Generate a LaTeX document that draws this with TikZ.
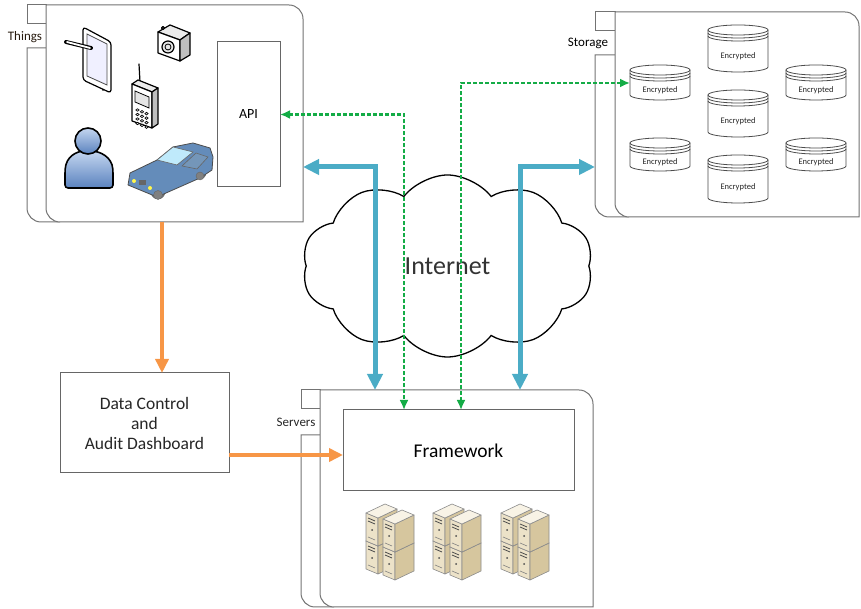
\documentclass[tikz,border=0pt]{standalone}
\usepackage{fontspec}
\setmainfont{Carlito}
\usetikzlibrary{arrows.meta,shapes.symbols}

\definecolor{netblue}{RGB}{75,172,198}
\definecolor{netgreen}{RGB}{20,172,70}
\definecolor{netorange}{RGB}{247,150,70}
\definecolor{rackfront}{RGB}{236,226,200}
\definecolor{rackside}{RGB}{214,198,158}
\definecolor{racktop}{RGB}{248,243,230}
\definecolor{carblue}{RGB}{100,140,186}
\definecolor{personlight}{RGB}{196,214,240}
\definecolor{persondark}{RGB}{90,130,190}

\begin{document}
\begin{tikzpicture}[
    x = 1pt, y = 1pt,
    every node/.style = {inner sep = 0pt, outer sep = 0pt},
    frame/.style = {draw = black!55, line width = 1pt},
    box/.style = {draw = black!60, line width = 1pt, fill = white},
    tag/.style = {font = \fontsize{13}{15}\selectfont, text = black!85},
    disk/.style = {draw = black!70, line width = .8pt, fill = white},
    icon/.style = {draw = black, line width = 1.2pt, line join = round},
    rackline/.style = {draw = black!45, line width = .6pt, line join = round},
    flow/.style = {draw = netorange, line width = 3.5pt,
      arrows = {-Triangle[length=14pt,width=13pt]}},
    link/.style = {draw = netblue, line width = 5pt,
      arrows = {Triangle[length=16pt,width=15pt]-Triangle[length=16pt,width=15pt]}},
    sync/.style = {draw = netgreen, line width = 2.2pt, dash pattern = on 3.5pt off 2.5pt,
      arrows = {Latex[length=10pt,width=9pt]-Latex[length=10pt,width=9pt]}},
    tower/.pic = {
      \draw[rackline, fill = rackfront] (0,0) -- (12,-5) -- (12,23) -- (0,28) -- cycle;
      \draw[rackline, fill = rackside] (12,-5) -- (31,4) -- (31,32) -- (12,23) -- cycle;
      \draw[rackline, fill = racktop] (0,28) -- (12,23) -- (31,32) -- (19,37) -- cycle;
      \draw[black!70, line width = .8pt] (2,23) -- (9,20) (2,20) -- (9,17);
      \fill[black!70] (6,11) circle (1);
      \draw[black!50, line width = .6pt] (2,4) -- (9,1);
    }
  ]
  \useasboundingbox (0,0) rectangle (861,609);

  % containers
  \node[minimum width = 257pt, minimum height = 217pt] (things) at (174.5,495.5) {};
  \node[minimum width = 244pt, minimum height = 205pt] (storage) at (737,494.5) {};
  \node[minimum width = 273pt, minimum height = 217pt] (servers) at (456.5,110.5) {};

  \draw[frame] (things.north west) rectangle ++(-19,-19);
  \draw[frame] ([yshift=-43pt]things.north west) -- ++(-19,0)
    -- ([xshift=-19pt,yshift=14pt]things.south west)
    arc[start angle=180, end angle=270, radius=14] -- ([xshift=14pt]things.south west);
  \draw[frame, fill = white] (things.north west) -- ([xshift=-14pt]things.north east)
    arc[start angle=90, end angle=0, radius=14] -- (things.south east)
    -- ([xshift=14pt]things.south west) arc[start angle=270, end angle=180, radius=14] -- cycle;
  \node[tag, text = black!80!brown] (things label) at (25,572) {Things};

  \draw[frame] (storage.north west) rectangle ++(-20,-19);
  \draw[frame] ([yshift=-43pt]storage.north west) -- ++(-20,0)
    -- ([xshift=-20pt,yshift=14pt]storage.south west)
    arc[start angle=180, end angle=270, radius=14] -- ([xshift=14pt]storage.south west);
  \draw[frame, fill = white] (storage.north west) -- ([xshift=-14pt]storage.north east)
    arc[start angle=90, end angle=0, radius=14] -- (storage.south east)
    -- ([xshift=14pt]storage.south west) arc[start angle=270, end angle=180, radius=14] -- cycle;
  \node[tag, text = black] (storage label) at (588,566) {Storage};

  \draw[frame] (servers.north west) rectangle ++(-19,-19);
  \draw[frame] ([yshift=-45pt]servers.north west) -- ++(-19,0)
    -- ([xshift=-19pt,yshift=14pt]servers.south west)
    arc[start angle=180, end angle=270, radius=14] -- ([xshift=14pt]servers.south west);
  \draw[frame, fill = white] (servers.north west) -- ([xshift=-14pt]servers.north east)
    arc[start angle=90, end angle=0, radius=14] -- (servers.south east)
    -- ([xshift=14pt]servers.south west) arc[start angle=270, end angle=180, radius=14] -- cycle;
  \node[tag] (servers label) at (296,187) {Servers};

  % boxes
  \node[box, minimum width = 63pt, minimum height = 145pt,
    font = \fontsize{14}{16}\selectfont] (api) at (248.5,494.5) {API};
  \node[box, minimum width = 231pt, minimum height = 81pt,
    font = \fontsize{19.5}{22}\selectfont] (framework) at (458.5,158.5) {Framework};
  \node[box, minimum width = 169pt, minimum height = 100pt, align = center,
    font = \fontsize{17.5}{20}\selectfont, text = black!85] (dash) at (144.5,186)
    {Data Control\\and\\Audit Dashboard};

  % things: tablet, camera, phone, person, car
  \draw[icon, fill = white, rounded corners = 3] (83,582) -- (111,567) -- (111,516) -- (83,529) -- cycle;
  \draw[black!70, fill = blue!6, line width = .8pt] (87,575) -- (107,565) -- (107,524) -- (87,533) -- cycle;
  \fill (103,519) circle (1);
  \draw[black, line width = 4pt, line cap = round] (66,567) -- (91,561);
  \draw[white, line width = 1.8pt, line cap = round] (67,567) -- (90,561);

  \draw[icon, fill = black!8] (158,577) -- (170,584) -- (190,576) -- (180,569) -- cycle;
  \draw[icon, fill = white] (158,577) -- (180,569) -- (180,548) -- (158,556) -- cycle;
  \draw[icon, fill = black!25] (180,569) -- (190,576) -- (190,554) -- (180,548) -- cycle;
  \draw[icon, fill = black!10] (168,562) circle (6);
  \draw[black, line width = .8pt] (168,562) circle (3);
  \draw[icon, fill = white] (163,581) circle (1.5);

  \draw[icon, line cap = round] (139,545) -- (140,527);
  \draw[icon, fill = black!8] (132,525) -- (138,529) -- (158,521) -- (152,517) -- cycle;
  \draw[icon, fill = white] (132,525) -- (152,517) -- (152,481) -- (132,488) -- cycle;
  \draw[icon, fill = black!25] (152,517) -- (158,521) -- (158,485) -- (152,481) -- cycle;
  \draw[black, line width = .8pt, fill = black!10] (135,518) -- (149,512) -- (149,501) -- (135,507) -- cycle;
  \foreach \i in {0,1,2}
    \foreach \j in {0,1,2,3}
      \draw[black, line width = .6pt, fill = black!15]
        (137.5+4.5*\i, 499-4.5*\j-1.8*\i) ellipse [x radius=1.7, y radius=1.3];

  \draw[icon, line width = 1.6pt, top color = personlight, bottom color = persondark, rounded corners = 3]
    (65,421) -- (65,437) .. controls (66,452) and (76,458) .. (88,458)
    .. controls (100,458) and (112,452) .. (113,437) -- (113,421) -- cycle;
  \draw[icon, line width = 1.6pt, top color = personlight, bottom color = persondark] (88,468) circle (13);

  \draw[black!60, fill = black!55] (158,417) circle (7) (200,436) circle (6);
  \draw[black!70, line width = .8pt, fill = carblue, line join = round]
    (128,424) -- (130,436) -- (157,449) -- (173,462) -- (193,466) -- (210,461)
    -- (213,452) -- (212,439) -- (200,431) -- (157,412) -- cycle;
  \draw[black!60, line width = .6pt, fill = cyan!25] (157,449) -- (173,462) -- (193,457) -- (177,444) -- cycle;
  \draw[black!60, line width = .6pt, fill = cyan!15!carblue] (182,443) -- (196,456) -- (208,452) -- (197,440) -- cycle;
  \draw[black!60, fill = black!50] (158,414) circle (4.5) (200,433) circle (4);
  \fill[yellow!70] (134,428) circle (2) (150,421) circle (2);
  \fill[black!60] (139,424) rectangle (146,429);

  % storage disks
  \foreach \n/\cx/\ty/\h in {1/660/544/35, 2/738/584/47, 3/816/544/35, 4/738/519/47,
                             5/660/471/33, 6/738/454/48, 7/816/471/33} {
    \draw[disk] (\cx-30,\ty-5) -- (\cx-30,\ty-\h+5)
      arc[start angle=180, end angle=360, x radius=30, y radius=5] -- (\cx+30,\ty-5);
    \draw[disk] (\cx,\ty-5) ellipse [x radius=30, y radius=5];
    \draw[disk, fill = none] (\cx-30,\ty-8) arc[start angle=180, end angle=360, x radius=30, y radius=5];
    \draw[disk, fill = none] (\cx-30,\ty-11) arc[start angle=180, end angle=360, x radius=30, y radius=5];
    \node[font = \fontsize{8.5}{10}\selectfont, text = black!85] (enc\n) at (\cx,\ty-\h/2-8) {Encrypted};
  }
  \coordinate (vault) at (630,526);
  \coordinate (storage in) at (595,442);

  % server racks
  \foreach \gx in {390,457,525}
    \foreach \dx/\dy in {-24/6, -24/34, -7/0, -7/28}
      \pic at (\gx+\dx,34+\dy) {tower};

  % the cloud
  \node[cloud, cloud puffs = 10, cloud puff arc = 105, cloud ignores aspect, draw = black,
    line width = 1.3pt, fill = white, minimum width = 291pt, minimum height = 182pt,
    font = \fontsize{26}{28}\selectfont, text = black!80] (net) at (447.5,343) {Internet};

  % connectors
  \draw[flow] (162,0 |- things.south) -- (162,0 |- dash.north);
  \draw[flow] (dash.east |- 0,154) -- (framework.west |- 0,154);
  \draw[link] (things.east |- 0,442) -| (375,0 |- servers.north);
  \draw[link] (520,0 |- servers.north) |- (storage in);
  \draw[sync] (api.east) -| (404,0 |- framework.north);
  \draw[sync] (461,0 |- framework.north) |- (vault);
\end{tikzpicture}
\end{document}
